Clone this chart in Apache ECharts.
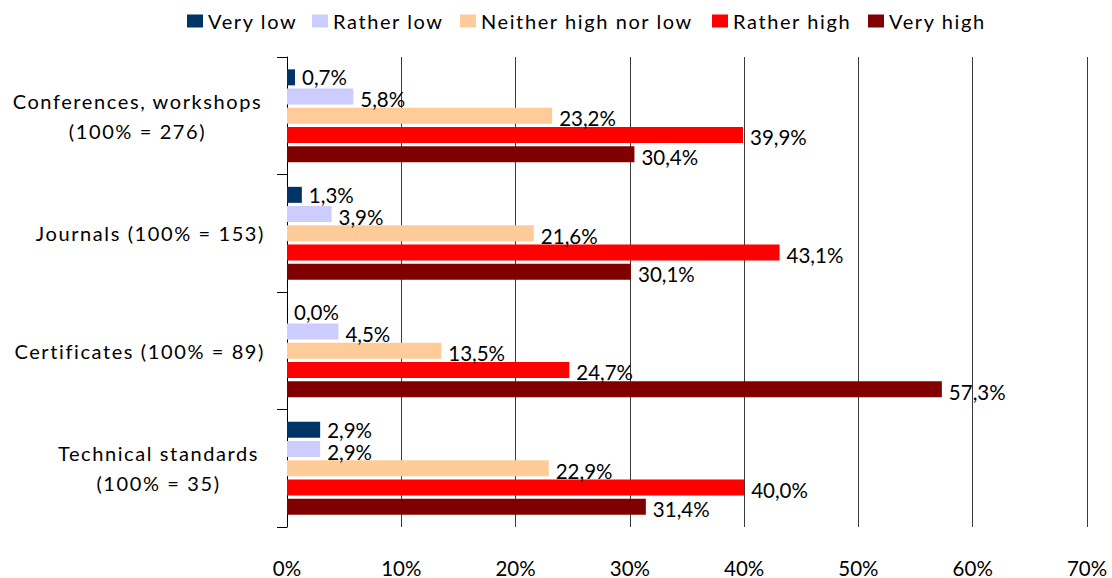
<!DOCTYPE html>
<html>
<head>
<meta charset="utf-8">
<script src="https://cdn.jsdelivr.net/npm/echarts@6/dist/echarts.min.js"></script>
<style>
  html, body { margin: 0; padding: 0; background: #ffffff; }
  #chart { width: 1112px; height: 578px; }
  /* words are set a little airy; numbers keep normal spacing */
  #chart text[style*="sans-serif"] { letter-spacing: 1.6px; }
</style>
</head>
<body>
<div id="chart"></div>
<script>
// Categories (top to bottom) and the share of answers per rating
const categories = [
  'Conferences, workshops\n(100% = 276)',
  'Journals (100% = 153)',
  'Certificates (100% = 89)',
  'Technical standards\n(100% = 35)'
];
const seriesNames = ['Very low', 'Rather low', 'Neither high nor low', 'Rather high', 'Very high'];
const veryLow    = [0.7, 1.3, 0.0, 2.9];
const ratherLow  = [5.8, 3.9, 4.5, 2.9];
const neither    = [23.2, 21.6, 13.5, 22.9];
const ratherHigh = [39.9, 43.1, 24.7, 40.0];
const veryHigh   = [30.4, 30.1, 57.3, 31.4];
const seriesValues = [veryLow, ratherLow, neither, ratherHigh, veryHigh];
const seriesColors = ['#003366', '#CCCCFF', '#FFCC99', '#FF0000', '#800000'];
const xTickLabels = ['0%', '10%', '20%', '30%', '40%', '50%', '60%', '70%'];

const WORD_FONT = 'Lato, sans-serif';
const NUM_FONT = 'Lato';
const WORD_SIZE = 20;
const NUM_SIZE = 20.5;

const chart = echarts.init(document.getElementById('chart'), null, { renderer: 'svg' });

// two-line category names are centred under each other
const yData = categories.map(function (c) {
  if (c.indexOf('\n') < 0) return c;
  const pad = c.indexOf('Conferences') === 0 ? 255 : 213;
  return { value: c, textStyle: { align: 'center', padding: [0, pad, 0, 0] } };
});

// one legend block per rating so the spaced words sit where they belong
const legendLeft = [187, 312, 460, 712, 868];
const legends = seriesNames.map(function (name, i) {
  return {
    data: [name],
    left: legendLeft[i],
    top: 11,
    padding: 0,
    itemWidth: 16,
    itemHeight: 13,
    icon: 'rect',
    selectedMode: false,
    textStyle: { fontFamily: WORD_FONT, fontSize: WORD_SIZE, color: '#000000' }
  };
});

const series = seriesNames.map(function (name, i) {
  return {
    name: name,
    type: 'bar',
    data: seriesValues[i],
    barWidth: 16,
    barGap: '20%',
    itemStyle: { color: seriesColors[i] },
    label: {
      show: true,
      position: 'right',
      distance: 7,
      // the top label of each group sits level with its bar, the rest drop a little
      offset: [0, i === 0 ? 0 : 2.5],
      fontFamily: NUM_FONT,
      fontSize: NUM_SIZE,
      lineHeight: 18,
      color: '#000000',
      formatter: function (p) { return p.value.toFixed(1).replace('.', ',') + '%'; }
    }
  };
});

chart.setOption({
  animation: false,
  backgroundColor: '#ffffff',
  legend: legends,
  grid: { left: 287, right: 25, top: 57, bottom: 49 },
  xAxis: {
    type: 'value',
    min: 0,
    max: 70,
    interval: 10,
    axisLine: { show: false },
    axisTick: { show: false },
    splitLine: { show: true, lineStyle: { color: '#3a3a3a', width: 1 } },
    axisLabel: {
      margin: 30,
      fontFamily: NUM_FONT,
      fontSize: NUM_SIZE,
      color: '#000000',
      formatter: function (v) { return xTickLabels[Math.round(v / 10)]; }
    }
  },
  yAxis: {
    type: 'category',
    inverse: true,
    data: yData,
    axisLine: { show: true, lineStyle: { color: '#000000', width: 1 } },
    axisTick: { show: true, length: 10, lineStyle: { color: '#000000' } },
    axisLabel: {
      margin: 22,
      fontFamily: WORD_FONT,
      fontSize: WORD_SIZE,
      lineHeight: 30,
      color: '#000000'
    }
  },
  series: series
});
</script>
</body>
</html>
